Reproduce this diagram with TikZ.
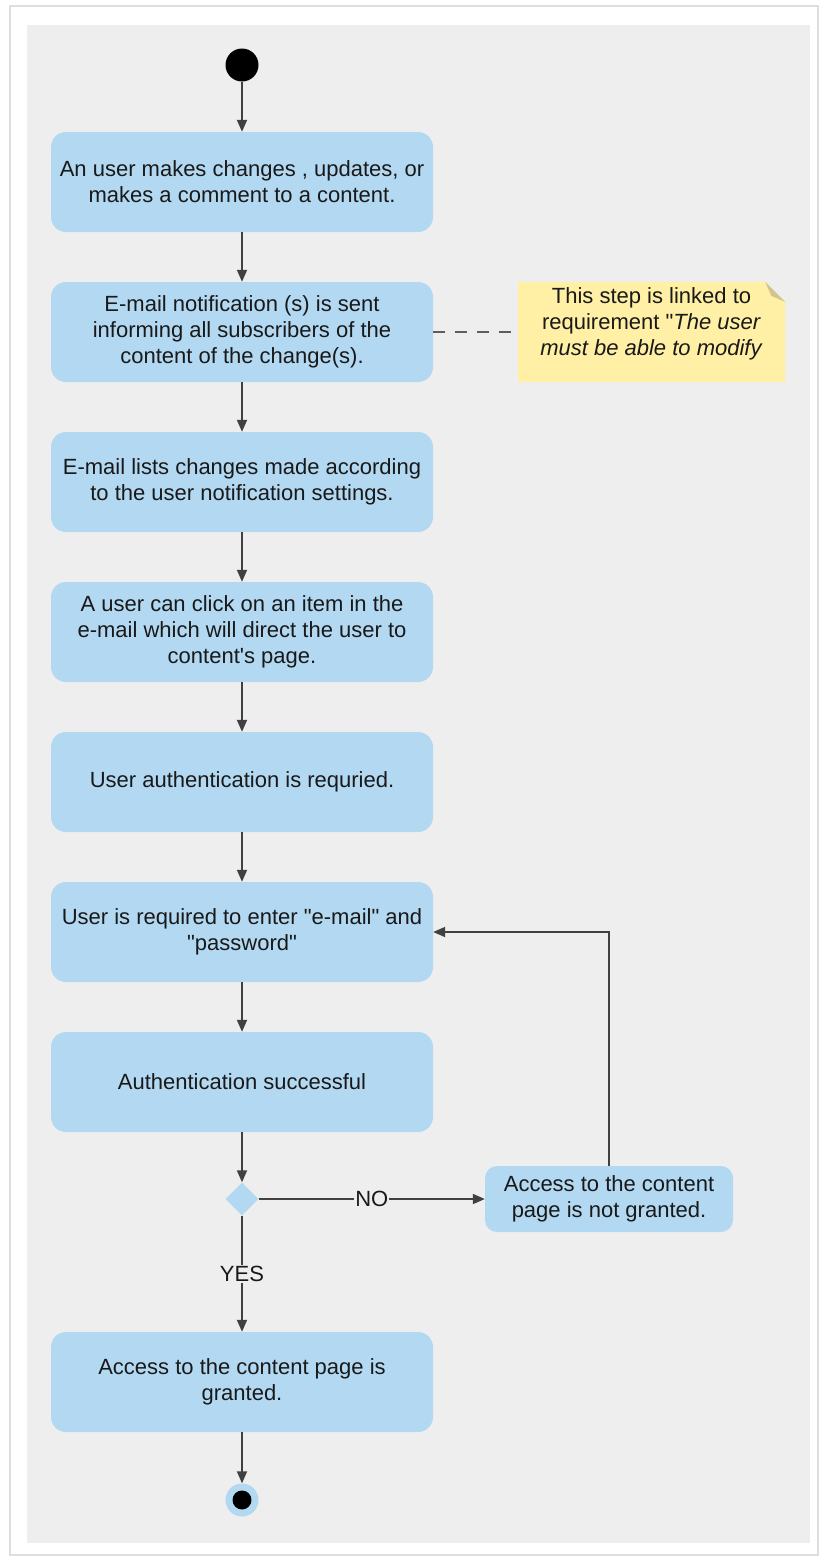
\documentclass[tikz,border=0pt]{standalone}
\usepackage{fontspec}
\setmainfont{Liberation Sans}[Ligatures=TeXOff]
\usetikzlibrary{arrows.meta,shapes.geometric}
\definecolor{panelgray}{HTML}{EEEEEE}
\definecolor{actblue}{HTML}{B3D9F2}
\definecolor{noteyellow}{HTML}{FFF0A6}
\definecolor{notefold}{HTML}{D3C38E}
\definecolor{flowgray}{HTML}{404040}
\tikzset{
  action/.style={rectangle,rounded corners=15pt,fill=actblue,minimum width=382pt,
    minimum height=100pt,align=center,inner sep=4pt,text=black!90,
    font=\fontsize{22}{26}\selectfont},
  flow/.style={draw=flowgray,line width=1.8pt,-{Triangle[length=12pt,width=10pt]}},
  flowlabel/.style={fill=panelgray,inner sep=1pt,text=black!90,font=\fontsize{22}{26}\selectfont},
}

\begin{document}
\begin{tikzpicture}[x=1pt,y=-1pt]
	\useasboundingbox (0,0) rectangle (823,1558);
	\fill[white] (0,0) rectangle (823,1558);
	\draw[black!13,line width=2pt] (10,6) rectangle (818,1555);
	\fill[panelgray] (27,25) rectangle (810,1543);
	% activity nodes
	\node[circle,fill=black,minimum size=33pt,inner sep=0pt] (start) at (242,65) {};
	\node[action] (edit) at (242,182) {An user makes changes , updates, or\\makes a comment to a content.};
	\node[action] (notify) at (242,332) {E-mail notification (s) is sent\\informing all subscribers of the\\content of the change(s).};
	\node[action] (lists) at (242,482) {E-mail lists changes made according\\to the user notification settings.};
	\node[action] (click) at (242,632) {A user can click on an item in the\\e-mail which will direct the user to\\content's page.};
	\node[action] (auth) at (242,782) {User authentication is requried.};
	\node[action] (creds) at (242,932) {User is required to enter "e-mail" and\\"password"};
	\node[action] (success) at (242,1082) {Authentication successful};
	\node[diamond,fill=actblue,minimum size=33pt,inner sep=0pt] (choice) at (242,1199) {};
	\node[action,minimum width=248pt,minimum height=66pt,rounded corners=12pt] (denied) at (609,1199) {Access to the content\\page is not granted.};
	\node[action] (granted) at (242,1382) {Access to the content page is\\granted.};
	\node[circle,fill=actblue,minimum size=33pt,inner sep=0pt] (stop) at (242,1500) {};
	\fill[black] (stop.center) circle (9.5);
	% note
	\node[minimum width=267pt,minimum height=100pt,inner sep=0pt] (note) at (651.5,332) {};
	\fill[noteyellow] (note.south west) -- (note.north west) -- ([xshift=-20pt]note.north east)
		-- ([yshift=-20pt]note.north east) -- (note.south east) -- cycle;
	\fill[notefold] ([xshift=-20pt]note.north east) -- ([yshift=-20pt]note.north east)
		-- ([xshift=-14pt,yshift=-14pt]note.north east) -- cycle;
	\node[align=center,text=black!90,font=\fontsize{22}{26}\selectfont] (notetext) at (651.5,324)
		{This step is linked to\\requirement "\textit{The user}\\\textit{must be able to modify}};
	% connectors
	\draw[flow] (start) -- (edit);
	\draw[flow] (edit) -- (notify);
	\draw[flow] (notify) -- (lists);
	\draw[flow] (lists) -- (click);
	\draw[flow] (click) -- (auth);
	\draw[flow] (auth) -- (creds);
	\draw[flow] (creds) -- (success);
	\draw[flow] (success) -- (choice);
	\draw[flow] (choice) -- node[flowlabel] {NO} (denied);
	\draw[flow] (choice) -- node[flowlabel] {YES} (granted);
	\draw[flow] (denied.north) |- (creds.east);
	\draw[flow] (granted) -- (stop);
	\draw[flowgray!85,line width=1.5pt,dash pattern=on 12pt off 10pt] (notify.east) -- (note.west);
\end{tikzpicture}
\end{document}
